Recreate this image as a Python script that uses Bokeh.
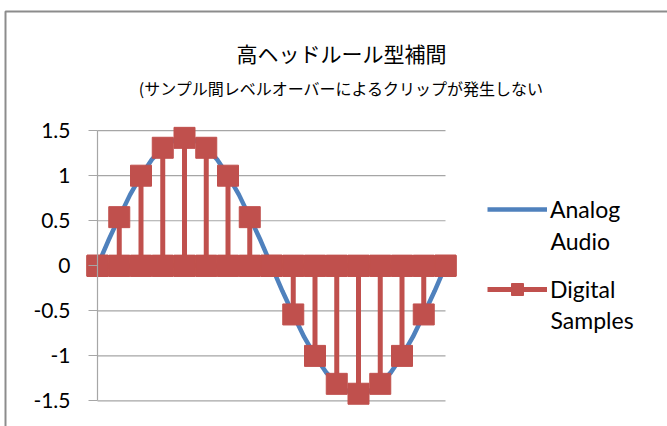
from bokeh.plotting import figure
from bokeh.models import (LinearAxis, FixedTicker, Legend, LegendItem, Label,
                          Range1d)
from bokeh.embed import file_html
from bokeh.resources import INLINE

# ---- text ----
TITLE = "高ヘッドルール型補間"
SUBTITLE = "(サンプル間レベルオーバーによるクリップが発生しない"
ANALOG_LABEL = ["Analog", "Audio"]
DIGITAL_LABEL = ["Digital", "Samples"]

# ---- data ----
# analog waveform, sampled every half sample period
analog_t = [0, 0.5, 1, 1.5, 2, 2.5, 3, 3.5, 4, 4.5, 5, 5.5, 6, 6.5, 7, 7.5, 8,
            8.5, 9, 9.5, 10, 10.5, 11, 11.5, 12, 12.5, 13, 13.5, 14, 14.5, 15, 15.5, 16]
analog_v = [0, 0.28, 0.54, 0.79, 1.0, 1.18, 1.31, 1.39, 1.41, 1.39, 1.31, 1.18, 1.0,
            0.79, 0.54, 0.28, 0, -0.28, -0.54, -0.79, -1.0, -1.18, -1.31, -1.39, -1.41,
            -1.39, -1.31, -1.18, -1.0, -0.79, -0.54, -0.28, 0]

# digital sample values
sample_n = [0, 1, 2, 3, 4, 5, 6, 7, 8, 9, 10, 11, 12, 13, 14, 15, 16]
sample_v = [0, 0.54, 1.0, 1.31, 1.42, 1.31, 1.0, 0.54, 0, -0.54, -1.0, -1.31, -1.42,
            -1.31, -1.0, -0.54, 0]

y_ticks = [-1.5, -1, -0.5, 0, 0.5, 1, 1.5]
y_tick_labels = ["-1.5", "-1", "-0.5", "0", "0.5", "1", "1.5"]

# ---- colours ----
BLUE = "#4f81bd"
RED = "#c0504d"
GRID = "#a6a6a6"
FRAME = "#8c8c8c"

W, H = 667, 426
# pixel geometry of the plotting area
X0_PX, X_UNIT = 97.0, 21.75      # sample 0 position, pixels per sample
Y0_PX, Y_UNIT = 265.3, 90.1      # zero level position, pixels per unit

x_range = Range1d(-X0_PX / X_UNIT, (W - X0_PX) / X_UNIT)
y_range = Range1d((Y0_PX - H) / Y_UNIT, Y0_PX / Y_UNIT)

p = figure(width=W, height=H, x_range=x_range, y_range=y_range,
           output_backend="svg", toolbar_location=None,
           x_axis_location=None, y_axis_location=None,
           min_border=0, outline_line_color=None)
p.xgrid.visible = False
p.ygrid.visible = False
p.background_fill_color = "white"
p.border_fill_color = "white"

# chart border (top and left edges visible)
bx = x_range.start + 5 / X_UNIT
by = y_range.end - 11 / Y_UNIT
p.quad(left=[bx], right=[x_range.end + 5], top=[by], bottom=[y_range.start - 5],
       fill_color=None, line_color=FRAME, line_width=2)

# horizontal gridlines spanning the sample axis
p.segment(x0=[sample_n[0]] * len(y_ticks), x1=[sample_n[-1]] * len(y_ticks),
          y0=y_ticks, y1=y_ticks, line_color=GRID, line_width=1.2)

# value axis at t = 0
yaxis = LinearAxis(fixed_location=0, bounds=(y_ticks[0], y_ticks[-1]),
                   ticker=FixedTicker(ticks=y_ticks))
yaxis.major_label_overrides = dict(zip(y_ticks, y_tick_labels))
yaxis.axis_line_color = GRID
yaxis.axis_line_width = 1.2
yaxis.major_tick_line_color = GRID
yaxis.major_tick_line_width = 1.2
yaxis.major_tick_in = 0
yaxis.major_tick_out = 9
yaxis.minor_tick_line_color = None
yaxis.major_label_standoff = 18
yaxis.major_label_text_font = "Lato"
yaxis.major_label_text_font_size = "21px"
yaxis.major_label_text_color = "#000000"
p.add_layout(yaxis, "left")

# analog waveform
analog_r = p.line(analog_t, analog_v, line_color=BLUE, line_width=4.5)

# digital samples drawn as stems: 0 -> value -> 0 at each sample time
stem_t, stem_v = [], []
for n, v in zip(sample_n, sample_v):
    stem_t += [n, n, n]
    stem_v += [0, v, 0]
stem_r = p.line(stem_t, stem_v, line_color=RED, line_width=5)
mark_r = p.scatter(stem_t, stem_v, marker="square", size=21,
                   fill_color=RED, line_color=RED, line_width=1)

# legend: first word of each series name beside its glyph, second word below
LEG_X, LEG_FONT = 487, "23px"
legend = Legend(items=[LegendItem(label=ANALOG_LABEL[0], renderers=[analog_r]),
                       LegendItem(label=DIGITAL_LABEL[0], renderers=[stem_r, mark_r])],
                location=(LEG_X, 122), orientation="vertical",
                glyph_width=60, glyph_height=30, label_standoff=3, spacing=50,
                padding=0, margin=0, border_line_color=None,
                background_fill_alpha=0,
                label_text_font="Lato", label_text_font_size=LEG_FONT,
                label_text_color="#000000")
p.add_layout(legend)
for word, y in ((ANALOG_LABEL[1], H - 240), (DIGITAL_LABEL[1], H - 319)):
    p.add_layout(Label(x=LEG_X + 63, y=y, x_units="screen", y_units="screen",
                       text=word, text_align="left", text_baseline="middle",
                       text_font="Lato", text_font_size=LEG_FONT,
                       text_color="#000000"))

# titles
p.add_layout(Label(x=341, y=H - 52, x_units="screen", y_units="screen", text=TITLE,
                   text_align="center", text_baseline="middle",
                   text_font="Noto Sans CJK JP", text_font_size="21px",
                   text_color="#000000"))
p.add_layout(Label(x=341, y=H - 87, x_units="screen", y_units="screen", text=SUBTITLE,
                   text_align="center", text_baseline="middle",
                   text_font="Noto Sans CJK JP", text_font_size="16px",
                   text_color="#000000"))

open("out.html", "w").write(file_html(p, INLINE))
